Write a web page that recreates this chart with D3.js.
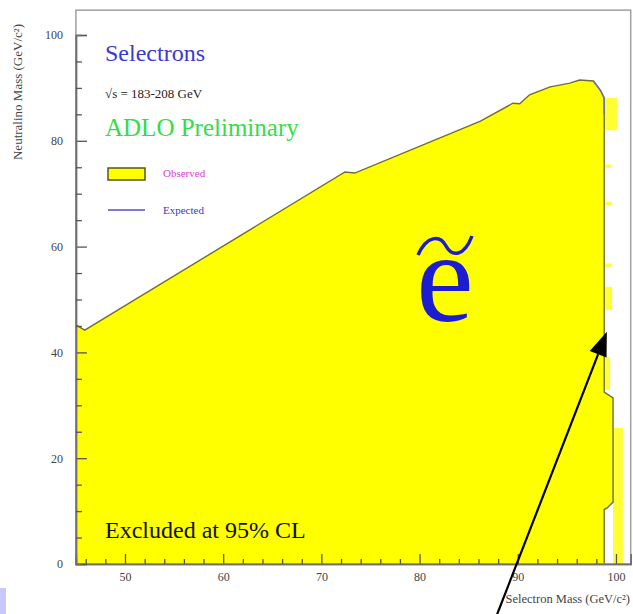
<!DOCTYPE html>
<html>
<head>
<meta charset="utf-8">
<script src="https://cdn.jsdelivr.net/npm/d3@7"></script>
<style>
  body { margin: 0; background: #fff; }
  svg { display: block; }
</style>
</head>
<body>
<svg id="chart" width="633" height="614"></svg>
<script>
// axis ticks
const xTicks = [50, 60, 70, 80, 90, 100];
const yTicks = [0, 20, 40, 60, 80, 100];

// observed excluded contour (selectron mass, neutralino mass), GeV
const obsMass = [45, 45.0, 45.9, 72.4, 73.4, 86.2, 89.5, 90.2, 91.2, 93.3, 95.3, 96.3, 97.7, 98.4, 98.8, 98.8, 99.7, 99.7, 99.1, 98.8, 98.8];
const obsNeut = [0, 45.2, 44.2, 74.1, 73.9, 83.7, 87.1, 87.0, 88.7, 90.2, 90.9, 91.5, 91.3, 89.6, 88.1, 32.5, 31.4, 11.7, 10.6, 10.3, 0];

// expected limit, where it shows apart from the observed one
const expMass = [97.7, 98.4, 98.8, 98.8];
const expNeut = [91.3, 89.6, 88.1, 85.0];

// yellow bits of the observed region past the edge [m0, m1, n0, n1]
const fringe = [
  [98.8, 100.1, 82.0, 88.1],
  [98.8, 99.6, 74.9, 75.5],
  [98.8, 99.6, 67.9, 68.5],
  [98.8, 99.6, 56.2, 56.8],
  [98.8, 99.6, 48.0, 52.4],
  [98.8, 99.4, 32.9, 39.1],
  [99.7, 100.7, 0, 25.7]
];

const serif = "'Liberation Serif', 'Times New Roman', serif";
const svg = d3.select('#chart');

const x = d3.scaleLinear().domain([45, 101.5]).range([75.9, 630.7]);
const y = d3.scaleLinear().domain([0, 100]).range([564, 35]);
const yTop = 104.7;

// slide artefact bottom left
svg.append('rect')
  .attr('x', 0).attr('y', 588).attr('width', 6).attr('height', 26)
  .attr('fill', '#c8c8ff');

// fringe
svg.append('g')
  .selectAll('rect')
  .data(fringe)
  .enter()
  .append('rect')
  .attr('x', d => x(d[0]))
  .attr('width', d => x(d[1]) - x(d[0]))
  .attr('y', d => y(d[3]))
  .attr('height', d => y(d[2]) - y(d[3]))
  .attr('fill', '#ffff00')
  .attr('opacity', 0.8);

// excluded area
const pts = obsMass.map((m, i) => [m, obsNeut[i]]);
const line = d3.line().x(d => x(d[0])).y(d => y(d[1]));
svg.append('path')
  .attr('d', line(pts) + 'Z')
  .attr('fill', '#ffff00')
  .attr('stroke', 'none');
// outline (skip the closing bottom and left edges)
svg.append('path')
  .attr('d', line(pts.slice(1)))
  .attr('fill', 'none')
  .attr('stroke', '#6e6e3a')
  .attr('stroke-width', 1.4);

svg.append('path')
  .attr('d', line(expMass.map((m, i) => [m, expNeut[i]])))
  .attr('fill', 'none')
  .attr('stroke', '#6a6ad8')
  .attr('stroke-width', 1.4);

// frame
svg.append('rect')
  .attr('x', x(45)).attr('y', y(yTop))
  .attr('width', x(101.5) - x(45)).attr('height', y(0) - y(yTop))
  .attr('fill', 'none')
  .attr('stroke', '#a0a0a0')
  .attr('stroke-width', 1.5);

// axes
svg.append('g')
  .attr('transform', `translate(0,${y(0)})`)
  .call(d3.axisBottom(x).tickValues(xTicks).tickSize(-10).tickPadding(8));
svg.append('g')
  .attr('transform', `translate(0,${y(0)})`)
  .call(d3.axisBottom(x).tickValues(d3.range(46, 101, 2).filter(v => v % 10 !== 0)).tickSize(-5).tickFormat(''));
svg.append('g')
  .attr('transform', `translate(${x(45)},0)`)
  .call(d3.axisLeft(y).tickValues(yTicks).tickSize(-11).tickPadding(13));
svg.append('g')
  .attr('transform', `translate(${x(45)},0)`)
  .call(d3.axisLeft(y).tickValues(d3.range(5, 101, 5).filter(v => v % 20 !== 0)).tickSize(-6).tickFormat(''));

svg.selectAll('.domain').attr('stroke', '#707070').attr('stroke-width', 1.6);
svg.selectAll('.tick line').attr('stroke', '#555').attr('stroke-width', 1.3);
svg.selectAll('.tick text')
  .attr('font-family', serif)
  .attr('font-size', 12)
  .attr('fill', '#444');

// axis titles
svg.append('text')
  .attr('transform', 'translate(22,92) rotate(-90)')
  .attr('text-anchor', 'middle')
  .attr('font-family', serif)
  .attr('font-size', 13)
  .attr('fill', '#444')
  .text('Neutralino Mass (GeV/c²)');
svg.append('text')
  .attr('x', 630).attr('y', 603)
  .attr('text-anchor', 'end')
  .attr('font-family', serif)
  .attr('font-size', 12.5)
  .attr('fill', '#444')
  .text('Selectron Mass (GeV/c²)');

// headings
svg.append('text').attr('x', 105).attr('y', 61)
  .attr('font-family', serif).attr('font-size', 24).attr('fill', '#3a3ad0')
  .text('Selectrons');
svg.append('text').attr('x', 105).attr('y', 98)
  .attr('font-family', serif).attr('font-size', 13).attr('fill', '#222')
  .text('√s = 183-208 GeV');
svg.append('text').attr('x', 105).attr('y', 136)
  .attr('font-family', serif).attr('font-size', 25).attr('fill', '#33dd44')
  .text('ADLO Preliminary');

// legend
svg.append('rect').attr('x', 108).attr('y', 168).attr('width', 37).attr('height', 12)
  .attr('fill', '#ffff00').attr('stroke', '#55551a').attr('stroke-width', 1.5);
svg.append('text').attr('x', 163).attr('y', 177)
  .attr('font-family', serif).attr('font-size', 11).attr('fill', '#e040e0')
  .text('Observed');
svg.append('line').attr('x1', 108).attr('x2', 145).attr('y1', 210).attr('y2', 210)
  .attr('stroke', '#5050c8').attr('stroke-width', 1.5);
svg.append('text').attr('x', 163).attr('y', 214)
  .attr('font-family', serif).attr('font-size', 11).attr('fill', '#3a3ac0')
  .text('Expected');

svg.append('text').attr('x', 105).attr('y', 538)
  .attr('font-family', serif).attr('font-size', 24).attr('fill', '#111')
  .text('Excluded at 95% CL');

// big selectron symbol
svg.append('text').attr('x', 416).attr('y', 321)
  .attr('font-family', serif).attr('font-size', 130).attr('fill', '#1c1cd0')
  .text('e');
svg.append('path')
  .attr('d', 'M418,255 C427,235 440,235 446,246 C452,257 464,257 472,236')
  .attr('fill', 'none').attr('stroke', '#1c1cd0').attr('stroke-width', 3.5);

// arrow
const tip = [x(99.07), y(43.9)];
const tail = [x(87.9), y(-9.5)];
const ang = Math.atan2(tip[1] - tail[1], tip[0] - tail[0]);
const hl = 24, hw = 9;
const base = [tip[0] - hl * Math.cos(ang), tip[1] - hl * Math.sin(ang)];
svg.append('line')
  .attr('x1', tail[0]).attr('y1', tail[1]).attr('x2', base[0]).attr('y2', base[1])
  .attr('stroke', '#000').attr('stroke-width', 2.2);
svg.append('path')
  .attr('d', `M${tip[0]},${tip[1]} L${base[0] + hw * Math.sin(ang)},${base[1] - hw * Math.cos(ang)} L${base[0] - hw * Math.sin(ang)},${base[1] + hw * Math.cos(ang)} Z`)
  .attr('fill', '#000');
</script>
</body>
</html>
